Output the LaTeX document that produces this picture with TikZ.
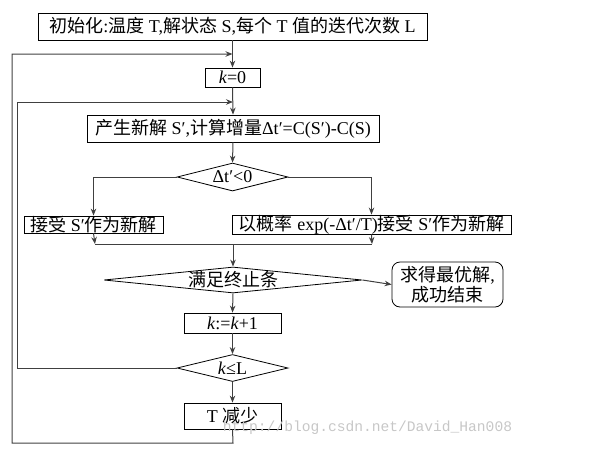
\documentclass[tikz,border=0pt]{standalone}
\usepackage{fontspec}
\setmainfont{Liberation Serif}
\newfontfamily\cjk{Noto Sans CJK SC}
\newfontfamily\wmfont{Liberation Mono}
\newcommand{\zh}[1]{{\cjk #1}}
\usetikzlibrary{shapes.geometric,arrows.meta}

\tikzset{
  box/.style={draw, rectangle, line width=0.8pt, inner sep=0pt},
  cond/.style={draw, diamond, line width=0.8pt, inner sep=0pt, aspect=4},
  flow/.style={draw=black!75, line width=1pt}
}

\begin{document}
\begin{tikzpicture}[x=1pt, y=-1pt, >={Stealth[length=7pt,width=5.5pt]}, font=\fontsize{18}{20}\selectfont]
    \useasboundingbox (0,0) rectangle (593,450);

    % Boites
    \node[box, minimum width=389, minimum height=27] (init) at (232.5,26.5)
        {\zh{初始化}:\zh{温度} T,\zh{解状态} S,\zh{每个} T \zh{值的迭代次数} L};
    \node[box, minimum width=55, minimum height=19] (kzero) at (232.5,77.5) {\textit{k}=0};
    \node[box, minimum width=292, minimum height=27] (gen) at (233,128.5)
        {\zh{产生新解} S′,\zh{计算增量}Δt′=C(S′)-C(S)};
    \node[cond, minimum width=111, minimum height=28] (cmp) at (232.5,177) {Δt′<0};
    \node[box, minimum width=139, minimum height=17] (acc) at (93.5,224.5)
        {\zh{接受} S′\zh{作为新解}};
    \node[box, minimum width=279, minimum height=17] (accp) at (371.5,224.5)
        {\zh{以概率} exp(-Δt′/T)\zh{接受} S′\zh{作为新解}};
    \node[cond, aspect=10, minimum width=258, minimum height=26] (stop) at (233,280) {\zh{满足终止条}};
    \node[box, rounded corners=8pt, minimum width=111, minimum height=45, align=center] (done) at (447.5,284.5)
        {\zh{求得最优解},\\\zh{成功结束}};
    \node[box, minimum width=97, minimum height=20] (inc) at (232.5,323) {\textit{k}:=\textit{k}+1};
    \node[cond, minimum width=111, minimum height=27] (kle) at (232.5,368) {\textit{k}≤L};
    \node[box, minimum width=97, minimum height=26] (tdec) at (232.5,416) {T \zh{减少}};

    % Points de jonction
    \coordinate (mleft) at (95,244);
    \coordinate (mright) at (372,244);
    \coordinate (mmid) at (233,244);
    \coordinate (itop) at (17,102);
    \coordinate (obot) at (233,443);
    \coordinate (otop) at (12,54);

    % Liaisons
    \draw[flow, ->] (init.south) -- (kzero.north);
    \draw[flow, ->] (kzero.south) -- (gen.north);
    \draw[flow, ->] (gen.south) -- (cmp.north);
    \draw[flow, ->] (cmp.west) -| (acc.north);
    \draw[flow, ->] (cmp.east) -| (accp.north);
    \draw[flow, ->] (acc.south) -- (mleft);
    \draw[flow, ->] (accp.south) -- (mright);
    \draw[flow] (mleft) -- (mright);
    \draw[flow, ->] (mmid) -- (stop.north);
    \draw[flow, ->] (stop.east) -- (done.west);
    \draw[flow, ->] (stop.south) -- (inc.north);
    \draw[flow, ->] (inc.south) -- (kle.north);
    \draw[flow, ->] (kle.south) -- (tdec.north);

    % Boucles
    \draw[flow, ->] (kle.west) -| (itop) -- (itop -| gen.north);
    \draw[flow, ->] (tdec.south) -- (obot) -| (otop) -- (otop -| kzero.north);

    % Filigrane
    \node[text=black!22, font=\wmfont\fontsize{14.6}{16}\selectfont] (wm) at (367.5,428)
        {http://blog.csdn.net/David\_Han008};
\end{tikzpicture}
\end{document}
